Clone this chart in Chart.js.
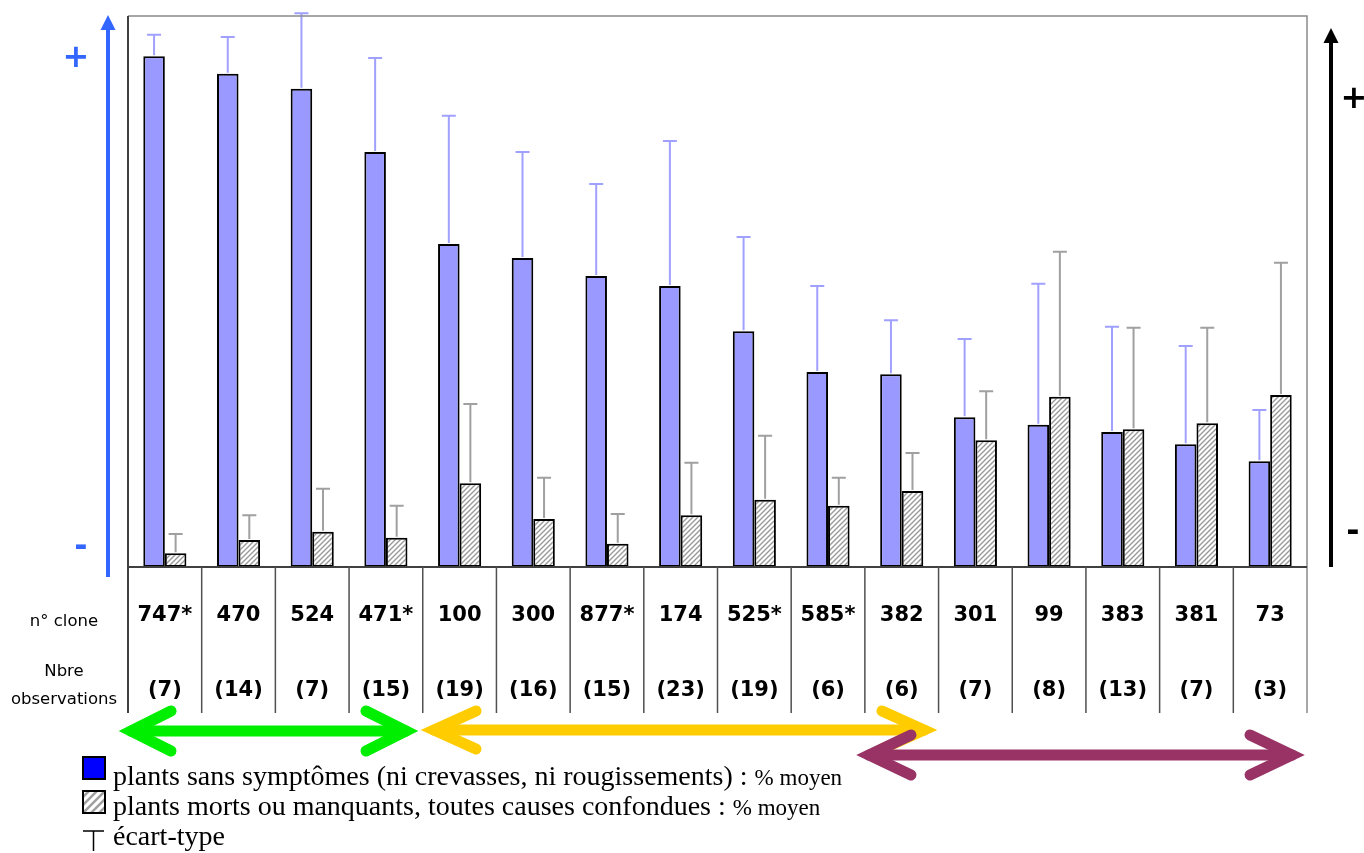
<!DOCTYPE html>
<html>
<head>
<meta charset="utf-8">
<script src="https://cdn.jsdelivr.net/npm/chart.js@4.4.0/dist/chart.umd.min.js"></script>
<style>
  body { margin: 0; background: #fff; }
  #wrap { width: 1364px; height: 853px; position: relative; }
</style>
</head>
<body>
<div id="wrap"><canvas id="chart" width="1364" height="853"></canvas></div>
<script>
// clones, ordered as in the figure
const clones = ["747*", "470", "524", "471*", "100", "300", "877*", "174", "525*", "585*", "382", "301", "99", "383", "381", "73"];
const nbObs = ["(7)", "(14)", "(7)", "(15)", "(19)", "(16)", "(15)", "(23)", "(19)", "(6)", "(6)", "(7)", "(8)", "(13)", "(7)", "(3)"];

// % moyen (échelle relative)
const sansSymptomes = [92.7, 89.5, 86.8, 75.3, 58.6, 56.1, 52.8, 51.0, 42.8, 35.4, 35.0, 27.2, 25.8, 24.5, 22.3, 19.2];
const sansSymptomesSd = [3.9, 6.7, 13.7, 17.1, 23.3, 19.2, 16.7, 26.3, 17.1, 15.6, 9.8, 14.2, 25.6, 19.1, 17.8, 9.3];
const mortsManquants = [2.5, 4.9, 6.4, 5.3, 15.2, 8.7, 4.2, 9.4, 12.2, 11.1, 13.8, 23.0, 30.9, 25.0, 26.1, 31.2];
const mortsManquantsSd = [3.5, 4.5, 7.8, 5.8, 14.4, 7.5, 5.4, 9.5, 11.6, 5.1, 6.9, 8.9, 26.3, 18.4, 17.3, 24.0];

const errColors = ["#a0a0ff", "#a0a0a0"];

function hatch(step, color, lw) {
    const c = document.createElement("canvas");
    c.width = step; c.height = step;
    const g = c.getContext("2d");
    g.fillStyle = "#fff";
    g.fillRect(0, 0, step, step);
    g.strokeStyle = color;
    g.lineWidth = lw;
    g.beginPath();
    g.moveTo(-1, step + 1); g.lineTo(step + 1, -1);
    g.moveTo(-1, 1); g.lineTo(1, -1);
    g.moveTo(step - 1, step + 1); g.lineTo(step + 1, step - 1);
    g.stroke();
    return g.createPattern(c, "repeat");
}

const ctx = document.getElementById("chart").getContext("2d");

function arrow2(g, x1, x2, y, dx, dy, color) {
    // double-headed arrow, chevron heads
    const w = 11;
    const inset = 11;
    g.save();
    g.strokeStyle = color;
    g.lineWidth = w;
    g.lineCap = "round";
    g.lineJoin = "miter";
    g.beginPath();
    g.moveTo(x1 + inset, y); g.lineTo(x2 - inset, y);
    g.stroke();
    g.beginPath();
    g.moveTo(x1 + inset + dx, y - dy); g.lineTo(x1 + inset, y); g.lineTo(x1 + inset + dx, y + dy);
    g.stroke();
    g.beginPath();
    g.moveTo(x2 - inset - dx, y - dy); g.lineTo(x2 - inset, y); g.lineTo(x2 - inset - dx, y + dy);
    g.stroke();
    g.restore();
}

function vArrow(g, x, yTop, yBottom, color) {
    g.save();
    g.strokeStyle = color;
    g.fillStyle = color;
    g.lineWidth = 4;
    g.beginPath();
    g.moveTo(x, yBottom); g.lineTo(x, yTop + 12);
    g.stroke();
    g.beginPath();
    g.moveTo(x, yTop); g.lineTo(x - 7.5, yTop + 15); g.lineTo(x + 7.5, yTop + 15);
    g.closePath();
    g.fill();
    g.restore();
}

const errorBars = {
    id: "errorBars",
    afterDatasetsDraw(chart) {
        const g = chart.ctx;
        const y = chart.scales.y;
        const sds = [sansSymptomesSd, mortsManquantsSd];
        g.save();
        chart.data.datasets.forEach((ds, i) => {
            const meta = chart.getDatasetMeta(i);
            g.strokeStyle = errColors[i];
            g.lineWidth = 2;
            meta.data.forEach((bar, j) => {
                const top = y.getPixelForValue(ds.data[j] + sds[i][j]);
                g.beginPath();
                g.moveTo(bar.x, bar.y - 1); g.lineTo(bar.x, top);
                g.moveTo(bar.x - 7, top); g.lineTo(bar.x + 7, top);
                g.stroke();
            });
        });
        g.restore();
    }
};

const frame = {
    id: "frame",
    afterDraw(chart) {
        const g = chart.ctx;
        const a = chart.chartArea;
        const x = chart.scales.x;
        const tableBottom = 713;
        const n = clones.length;
        const step = (a.right - a.left) / n;
        g.save();

        // plot frame
        g.lineWidth = 1.5;
        g.strokeStyle = "#8a8a8a";
        g.beginPath();
        g.moveTo(a.left, a.top); g.lineTo(a.right, a.top); g.lineTo(a.right, tableBottom);
        g.stroke();
        g.strokeStyle = "#404040";
        g.lineWidth = 2;
        g.beginPath();
        g.moveTo(a.left, a.top); g.lineTo(a.left, tableBottom);
        g.moveTo(a.left, a.bottom); g.lineTo(a.right, a.bottom);
        g.stroke();

        // table columns
        g.lineWidth = 1.5;
        g.strokeStyle = "#505050";
        g.beginPath();
        for (let i = 1; i < n; i++) {
            const xx = a.left + i * step;
            g.moveTo(xx, a.bottom); g.lineTo(xx, tableBottom);
        }
        g.stroke();

        g.fillStyle = "#000";
        g.textAlign = "center";
        g.textBaseline = "middle";
        g.font = "bold 21px 'DejaVu Sans'";
        clones.forEach((c, i) => {
            g.fillText(c, x.getPixelForValue(i), 616);
            g.fillText(nbObs[i], x.getPixelForValue(i), 691);
        });
        g.font = "16.5px 'DejaVu Sans'";
        g.fillText("n° clone", 64, 622);
        g.fillText("Nbre", 64, 672);
        g.fillText("observations", 64, 700);

        // side arrows
        vArrow(g, 108, 15, 577, "#3366ff");
        vArrow(g, 1331, 28, 567, "#000");
        g.font = "bold 32px 'DejaVu Sans'";
        g.fillStyle = "#3366ff";
        g.fillText("+", 76, 59);
        g.fillText("-", 81, 548);
        g.fillStyle = "#000";
        g.fillText("+", 1354, 100);
        g.fillText("-", 1353, 533);

        // groups arrows
        arrow2(g, 120, 417, 731, 40, 20, "#00ee00");
        arrow2(g, 423, 935, 730, 42, 19, "#ffcc00");
        arrow2(g, 858, 1303, 755, 42, 20, "#993366");

        // legend
        g.textAlign = "left";
        g.textBaseline = "alphabetic";
        g.lineWidth = 2;
        g.strokeStyle = "#000";
        g.fillStyle = "#0000ff";
        g.fillRect(83, 757, 22, 22);
        g.strokeRect(83, 757, 22, 22);
        g.fillStyle = hatch(8, "#a0a0a0", 2.5);
        g.fillRect(83, 791, 22, 22);
        g.strokeRect(83, 791, 22, 22);
        g.lineWidth = 1.5;
        g.beginPath();
        g.moveTo(83, 831); g.lineTo(104, 831);
        g.moveTo(93.5, 831); g.lineTo(93.5, 851);
        g.stroke();

        g.fillStyle = "#000";
        const lines = [
            ["plants sans symptômes (ni crevasses, ni rougissements) : ", "% moyen", 785],
            ["plants morts ou manquants, toutes causes confondues : ", "% moyen", 815],
            ["écart-type", "", 845]
        ];
        lines.forEach(([t, s, yy]) => {
            g.font = "28px 'Liberation Serif'";
            g.fillText(t, 113, yy);
            const w = g.measureText(t).width;
            g.font = "23px 'Liberation Serif'";
            g.fillText(s, 113 + w, yy);
        });
        g.restore();
    }
};

new Chart(ctx, {
    type: "bar",
    data: {
        labels: clones,
        datasets: [{
            label: "plants sans symptômes",
            data: sansSymptomes,
            backgroundColor: "#9999ff",
            borderColor: "#000",
            borderWidth: 2,
            borderSkipped: false
        }, {
            label: "plants morts ou manquants",
            data: mortsManquants,
            backgroundColor: hatch(5, "#999", 1.4),
            borderColor: "#000",
            borderWidth: 2,
            borderSkipped: false
        }]
    },
    options: {
        responsive: false,
        animation: false,
        events: [],
        layout: { padding: { left: 128, right: 57, top: 16, bottom: 286 } },
        datasets: { bar: { categoryPercentage: 0.585, barPercentage: 1 } },
        plugins: { legend: { display: false }, tooltip: { enabled: false } },
        scales: {
            x: { display: false },
            y: { display: false, min: 0, max: 100 }
        }
    },
    plugins: [errorBars, frame]
});
</script>
</body>
</html>
